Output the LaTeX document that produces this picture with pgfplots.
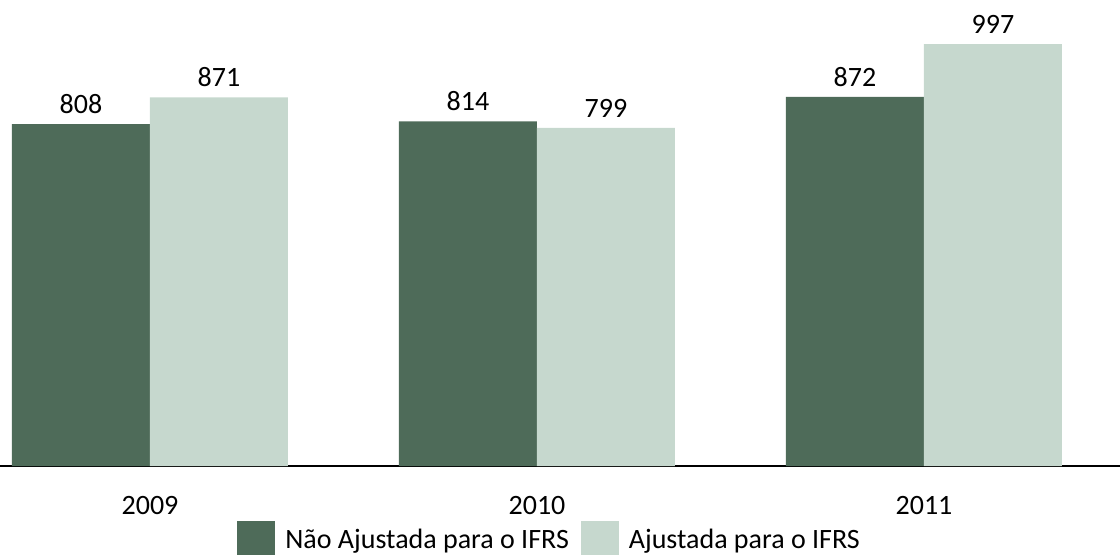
\documentclass[border=0pt]{standalone}
\usepackage{fontspec}
\setmainfont{Carlito}
\usepackage{pgfplots}
\pgfplotsset{compat=1.18}

\definecolor{darkgreen}{RGB}{78,107,89}
\definecolor{lightgreen}{RGB}{198,216,206}

\begin{document}
\begin{tikzpicture}
\clip (0pt,-44pt) rectangle (560pt,233pt);
\begin{axis}[
    at={(0pt,0pt)}, anchor=south west,
    scale only axis,
    width=560pt, height=233pt,
    ybar=0pt,
    bar width=69pt,
    xmin=-0.3876, xmax=2.5065,
    ymin=0, ymax=1101,
    axis x line*=bottom,
    axis y line=none,
    x axis line style={-, line width=0.8pt},
    xtick={0,1,2},
    xticklabels={2009,2010,2011},
    xtick style={draw=none},
    xticklabel style={anchor=base, yshift=-20pt},
    /pgf/number format/assume math mode=true,
    font=\fontsize{14}{16}\selectfont,
    nodes near coords,
    nodes near coords style={anchor=base, inner sep=0pt, yshift=5.3pt, text=black},
    clip=false,
    legend columns=2,
    legend style={at={(axis description cs:0.2116,-0.1588)}, anchor=west,
        draw=none, fill=none, inner sep=0pt,
        font=\fontsize{14}{16}\selectfont,
        /tikz/every even column/.append style={column sep=1pt},
        nodes={inner xsep=5pt, inner ysep=0pt}},
]
\addplot[fill=darkgreen, draw=none,
    legend image code/.code={\fill[darkgreen] (0pt,-9.5pt) rectangle (19pt,9.5pt);}]
    coordinates {(0,808) (1,814) (2,872)};
\addplot[fill=lightgreen, draw=none,
    legend image code/.code={\fill[lightgreen] (0pt,-9.5pt) rectangle (19pt,9.5pt);}]
    coordinates {(0,871) (1,799) (2,997)};
\legend{Não Ajustada para o IFRS, Ajustada para o IFRS}
\end{axis}
\end{tikzpicture}
\end{document}
